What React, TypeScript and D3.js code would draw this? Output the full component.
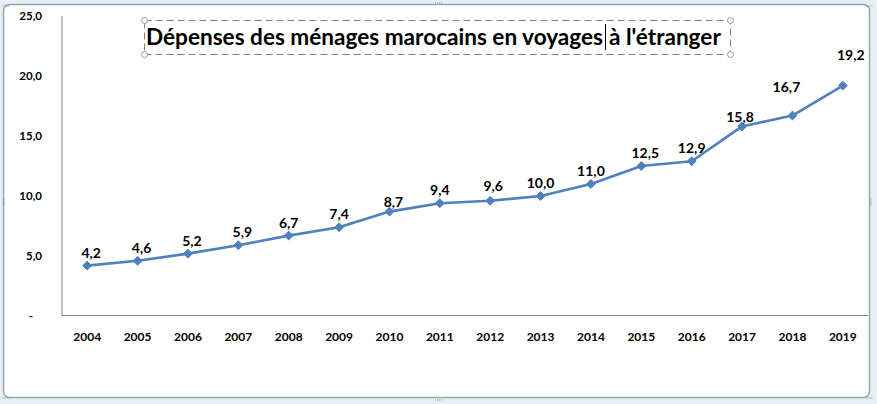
import React, { useLayoutEffect, useRef, useState } from "react";
import * as d3 from "d3";

// Dépenses des ménages marocains en voyages à l'étranger (milliards de DH)
const years = ["2004", "2005", "2006", "2007", "2008", "2009", "2010", "2011", "2012", "2013", "2014", "2015", "2016", "2017", "2018", "2019"];
const spending = [4.2, 4.6, 5.2, 5.9, 6.7, 7.4, 8.7, 9.4, 9.6, 10.0, 11.0, 12.5, 12.9, 15.8, 16.7, 19.2];
const yTicks = [0, 5, 10, 15, 20, 25];
const titleHead = "Dépenses des ménages marocains en voyages";
const titleTail = "à l'étranger";

// label nudges (dx, dy) for a few data labels that were dragged by hand
const labelNudge: Record<string, [number, number]> = {
  "2004": [4, 0], "2005": [4, 0], "2006": [4, 0], "2007": [4, 0], "2010": [4, 3],
  "2012": [3, -2], "2015": [4, 0], "2017": [-2, 4],
  "2018": [-6, -16], "2019": [8, -18],
};

const W = 877;
const H = 404;
const FONT = "Lato, 'Open Sans', sans-serif";
const BLUE = "#4f81bd";
const HEAD_WIDTH = 457;

export default function App() {
  const left = 62, right = 868, top = 16, bottom = 316;
  const x = d3.scaleBand<string>().domain(years).range([left, right]);
  const y = d3.scaleLinear().domain([0, 25]).range([bottom, top]);
  const cx = (yr: string) => (x(yr) as number) + x.bandwidth() / 2;
  const fmt = (v: number) => v.toFixed(1).replace(".", ",");

  const line = d3.line<number>()
    .x((_, i) => cx(years[i]))
    .y((v) => y(v));

  const diamond = d3.symbol().type(d3.symbolDiamond2).size(50)();

  const handles: [number, number][] = [
    [6, 6], [W / 2, 3], [W - 8, 6], [4, H / 2], [W - 6, H / 2], [6, H - 6], [W / 2, H - 4], [W - 8, H - 6],
  ];

  // title is split around the text caret; size it so the first part fills up to the caret
  const headRef = useRef<SVGTextElement>(null);
  const [titleSize, setTitleSize] = useState(21);
  useLayoutEffect(() => {
    const el = headRef.current;
    if (!el) return;
    const w = el.getComputedTextLength();
    if (w > 0) {
      const next = Math.min(26, Math.max(14, +(titleSize * HEAD_WIDTH / w).toFixed(2)));
      if (Math.abs(next - titleSize) > 0.05) setTitleSize(next);
    }
  }, [titleSize]);

  return (
    <svg width={W} height={H} style={{ position: "absolute", left: 0, top: 0 }} fontFamily={FONT}>
      <rect x={0} y={0} width={W} height={H} fill="#e6f0f4" />
      <rect x={3.5} y={4.5} width={W - 11} height={H - 11} rx={6} fill="#ffffff" stroke="#98a6ae" strokeWidth={1.5} />
      {handles.map(([hx, hy], i) => (
        <g key={i} fill="#7a8a94">
          {[-3, -1, 1, 3].map((o) =>
            Math.abs(hy - H / 2) < 1 ? (
              <rect key={o} x={hx - 0.5} y={hy + o - 0.5} width={1} height={1} />
            ) : (
              <rect key={o} x={hx + o - 0.5} y={hy - 0.5} width={1} height={1} />
            )
          )}
        </g>
      ))}

      {/* axes */}
      <line x1={left} x2={left} y1={top} y2={bottom} stroke="#868686" strokeWidth={1} />
      <line x1={left} x2={right} y1={bottom - 0.5} y2={bottom - 0.5} stroke="#868686" strokeWidth={1} />

      {yTicks.map((t) => (
        <text key={t} x={t === 0 ? 33 : 42} y={y(t) + 4} textAnchor="end" fontSize={11.5} fontWeight="bold" fill="#000">
          {t === 0 ? "-" : fmt(t)}
        </text>
      ))}
      {years.map((yr) => (
        <text key={yr} x={cx(yr)} y={341} textAnchor="middle" fontSize={12} fontWeight="bold" fill="#000">
          {yr}
        </text>
      ))}

      {/* series */}
      <path d={line(spending) || ""} fill="none" stroke={BLUE} strokeWidth={2.6} strokeLinejoin="round" />
      {spending.map((v, i) => (
        <path key={i} d={diamond || ""} transform={`translate(${cx(years[i])},${y(v)})`} fill={BLUE} stroke={BLUE} strokeWidth={1} />
      ))}
      {spending.map((v, i) => {
        const [dx, dy] = labelNudge[years[i]] || [0, 0];
        return (
          <text key={i} x={cx(years[i]) + dx} y={y(v) - 8 + dy} textAnchor="middle" fontSize={14} fontWeight="bold" fill="#000">
            {fmt(v)}
          </text>
        );
      })}

      {/* title box */}
      <rect x={144.5} y={20.5} width={586} height={34} fill="none" stroke="#7f7f7f" strokeWidth={1} strokeDasharray="7,4" />
      {[[144.5, 20.5], [144.5, 54.5], [730.5, 20.5], [730.5, 54.5]].map(([hx, hy], i) => (
        <circle key={i} cx={hx} cy={hy} r={3} fill="#ffffff" stroke="#8aa0b0" strokeWidth={1} />
      ))}
      <text ref={headRef} x={146} y={45} fontSize={titleSize} fontWeight="bold" fill="#000">
        {titleHead}
      </text>
      <text x={609} y={45} fontSize={titleSize} fontWeight="bold" fill="#000">
        {titleTail}
      </text>
      <line x1={605.5} x2={605.5} y1={24} y2={50} stroke="#000" strokeWidth={1} />
    </svg>
  );
}
